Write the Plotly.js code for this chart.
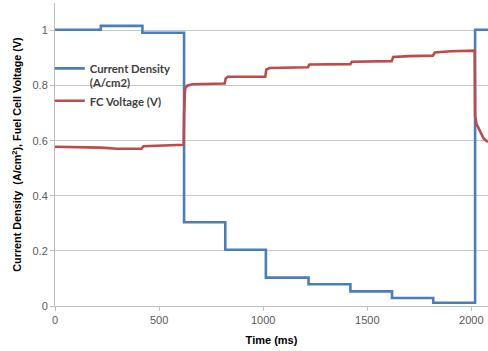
<!DOCTYPE html>
<html>
<head>
<meta charset="utf-8">
<script src="https://cdn.plot.ly/plotly-3.0.1.min.js"></script>
<style>html,body{margin:0;padding:0;background:#fff;}#chart{width:488px;height:351px;}</style>
</head>
<body>
<div id="chart"></div>
<script>
// Current density steps (A/cm2), drawn as step line (hv)
const currentTime = [0, 220, 420, 620, 818, 1013, 1218, 1419, 1619, 1817, 2018, 2080];
const currentDensity = [1.003, 1.017, 0.992, 0.304, 0.204, 0.103, 0.079, 0.053, 0.029, 0.012, 1.003, 1.003];

// Fuel cell voltage (V)
const voltageTime = [0, 100, 220, 300, 415, 425, 520, 618, 620, 621, 625, 635, 660, 815, 820, 830, 1010, 1015, 1030, 1215, 1222, 1419, 1426, 1617, 1625, 1700, 1815, 1825, 1900, 2016, 2018, 2025, 2040, 2060, 2080];
const voltage = [0.578, 0.577, 0.575, 0.571, 0.571, 0.580, 0.582, 0.585, 0.70, 0.76, 0.79, 0.80, 0.805, 0.808, 0.826, 0.832, 0.832, 0.858, 0.864, 0.867, 0.877, 0.878, 0.887, 0.889, 0.904, 0.907, 0.909, 0.920, 0.925, 0.927, 0.69, 0.66, 0.635, 0.607, 0.595];

const xTicks = [0, 500, 1000, 1500, 2000];
const yTicks = [0, 0.2, 0.4, 0.6, 0.8, 1];

const traces = [
  {x: currentTime, y: currentDensity, type: 'scatter', mode: 'lines', line: {shape: 'hv', color: '#4a7ebb', width: 2.6}, name: 'Current Density<br>(A/cm2)'},
  {x: voltageTime, y: voltage, type: 'scatter', mode: 'lines', line: {color: '#be4b48', width: 2.6}, name: 'FC Voltage (V)'}
];

const font = "'Liberation Sans', Arial, sans-serif";
const legendFont = "Lato, 'Liberation Sans', sans-serif";
const layout = {
  width: 488, height: 351,
  margin: {l: 55, r: 0, t: 3, b: 45},
  paper_bgcolor: '#fff', plot_bgcolor: '#fff',
  font: {family: font, size: 11, color: '#595959'},
  showlegend: true,
  legend: {x: -0.012, y: 0.83, xanchor: 'left', yanchor: 'top', bgcolor: 'rgba(0,0,0,0)', borderwidth: 0, valign: 'top',
           font: {family: legendFont, size: 11.3, color: '#404040', weight: 'bold'}, tracegroupgap: 0},
  xaxis: {range: [0, 2080], tickvals: xTicks, ticktext: xTicks.map(String), showgrid: false, zeroline: false,
          showline: true, linecolor: '#bfbfbf', linewidth: 1, ticks: 'outside', ticklen: 4, tickcolor: '#bfbfbf',
          tickfont: {size: 11, color: '#595959'},
          title: {text: 'Time (ms)', font: {family: font, size: 11, color: '#000', weight: 'bold'}, standoff: 11}},
  yaxis: {range: [0, 1.1], tickvals: yTicks, ticktext: yTicks.map(String), showgrid: true, gridcolor: '#c8c8c8', gridwidth: 1,
          zeroline: false, showline: true, linecolor: '#bfbfbf', linewidth: 1, ticks: 'outside', ticklen: 4, tickcolor: '#bfbfbf',
          tickfont: {size: 11, color: '#595959'},
          title: {text: 'Current Density  (A/cm<sup>2</sup>), Fuel Cell Voltage (V)', font: {family: font, size: 10.8, color: '#000', weight: 'bold'}, standoff: 8}}
};

Plotly.newPlot('chart', traces, layout, {displayModeBar: false, staticPlot: true});
</script>
</body>
</html>
